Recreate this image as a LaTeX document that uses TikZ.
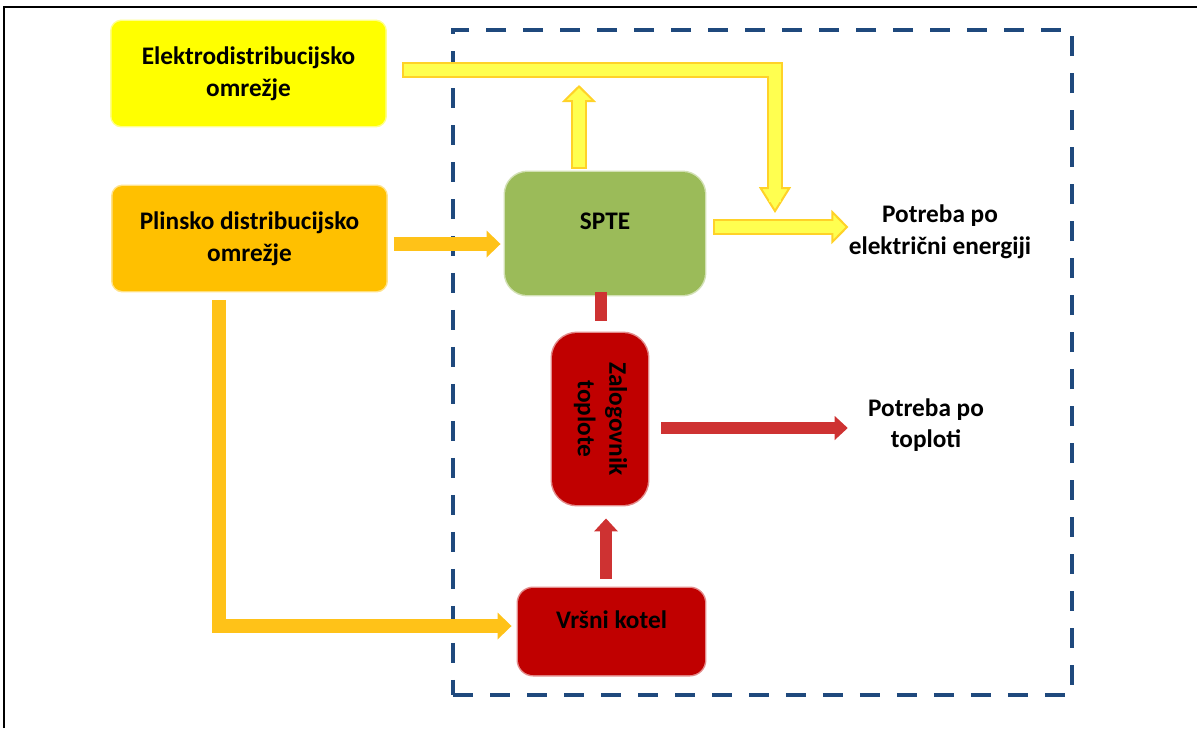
\documentclass[tikz,border=0pt]{standalone}
\usepackage{fontspec}
\setmainfont{Carlito}
\usepackage{graphicx}
\usetikzlibrary{
    arrows.meta,
    calc,
    positioning,
}
\definecolor{elYellow}{RGB}{255,255,0}
\definecolor{gasOrange}{RGB}{255,192,0}
\definecolor{chpGreen}{RGB}{155,187,89}
\definecolor{heatRed}{RGB}{192,0,0}
\definecolor{frameBlue}{RGB}{31,73,125}
\definecolor{yFill}{RGB}{255,255,80}
\definecolor{yLine}{RGB}{255,210,40}
\definecolor{oArrow}{RGB}{255,194,24}
\definecolor{rArrow}{RGB}{206,50,50}

\begin{document}
\begin{tikzpicture}[x=0.02cm,y=-0.02cm,font=\fontsize{14.4}{18}\selectfont\bfseries]

    \tikzstyle{block}=[rectangle, align=center, inner sep=0pt, line width=0.06cm, draw opacity=0.45]
    \tikzstyle{source}=[block, rounded corners=0.2cm, minimum width=5.48cm, minimum height=2.1cm]
    \tikzstyle{unit}=[block, rounded corners=0.45cm]
    \tikzstyle{demand}=[align=center, inner sep=0pt]
    \tikzstyle{sysbox}=[draw=frameBlue, line width=0.08cm, dash pattern=on 0.4cm off 0.34cm, minimum width=12.38cm, minimum height=13.3cm]
    \tikzstyle{ypipe}=[draw=yLine, line width=0.32cm, -{Triangle[width=0.68cm,length=0.34cm,fill=yFill,line width=0.04cm]},
        postaction={draw=yFill, line width=0.24cm, -, shorten >=0.22cm, shorten <=0.04cm}]
    \tikzstyle{opipe}=[draw=oArrow, line width=0.27cm, -{Triangle[width=0.54cm,length=0.28cm,line width=0pt]}]
    \tikzstyle{rpipe}=[draw=rArrow, line width=0.24cm, -{Triangle[width=0.48cm,length=0.26cm,line width=0pt]}]
    \tikzstyle{rline}=[draw=rArrow, line width=0.24cm]

    \useasboundingbox (0,0) rectangle (1197,728);

    % Outer frame
    \draw[black, line width=0.04cm] (4,728) -- (4,7) -- (1197,7);

    % System boundary
    \node[sysbox] (system) at (762.5,362.5) {};

    % Supply networks
    \node[source, fill=elYellow, draw=elYellow] (elektro) at (248.5,73.5) {Elektrodistribucijsko\\omrežje};
    \node[source, fill=gasOrange, draw=gasOrange] (plinsko) at (249.5,238.5) {Plinsko distribucijsko\\omrežje};

    % Units
    \node[unit, fill=chpGreen, draw=chpGreen, minimum width=4cm, minimum height=2.46cm,
        text height=0.3cm, text depth=0.48cm] (spte) at (605,233.5) {SPTE};
    \node[unit, fill=heatRed, draw=heatRed, rounded corners=0.5cm, minimum width=1.92cm, minimum height=3.44cm] (zalog) at (600,419)
        {\rotatebox{-90}{\begin{tabular}{@{}c@{}}Zalogovnik\\toplote\end{tabular}}};
    \node[unit, fill=heatRed, draw=heatRed, rounded corners=0.3cm, minimum width=3.74cm, minimum height=1.74cm,
        text height=0.3cm, text depth=0.44cm] (kotel) at (611.5,631.5) {Vršni kotel};

    % Demands
    \node[demand] (demandE) at (940,232) {Potreba po\\električni energiji};
    \node[demand] (demandH) at (926,425) {Potreba po\\toploti};

    % Free ends
    \coordinate (gridIn) at (775,213);
    \coordinate (spteOut) at (579,85);

    % Electricity
    \draw[ypipe, -{Triangle[width=0.64cm,length=0.52cm,fill=yFill,line width=0.04cm]}]
        ($(elektro.east)+(15,-3.5)$) -| (gridIn);
    \draw[ypipe] ($(spte.north)+(-26,-2)$) -- (spteOut);
    \draw[ypipe] ($(spte.east)+(7,-6.5)$) -- ($(demandE.west)+(0,-5)$);

    % Gas
    \draw[opipe] ($(plinsko.east)+(6,5.5)$) -- ($(spte.west)+(-3,10.5)$);
    \draw[opipe] ($(plinsko.south)+(-30.5,8)$) |- ($(kotel.west)+(-5,-5.5)$);

    % Heat
    \draw[rline] ($(spte.south)+(-4,-4)$) -- ($(zalog.north)+(1,-11)$);
    \draw[rpipe] ($(kotel.north)+(-5.5,-8)$) -- ($(zalog.south)+(6,12)$);
    \draw[rpipe] ($(zalog.east)+(12,9)$) -- ($(demandH.west)+(-20,3)$);

\end{tikzpicture}
\end{document}
